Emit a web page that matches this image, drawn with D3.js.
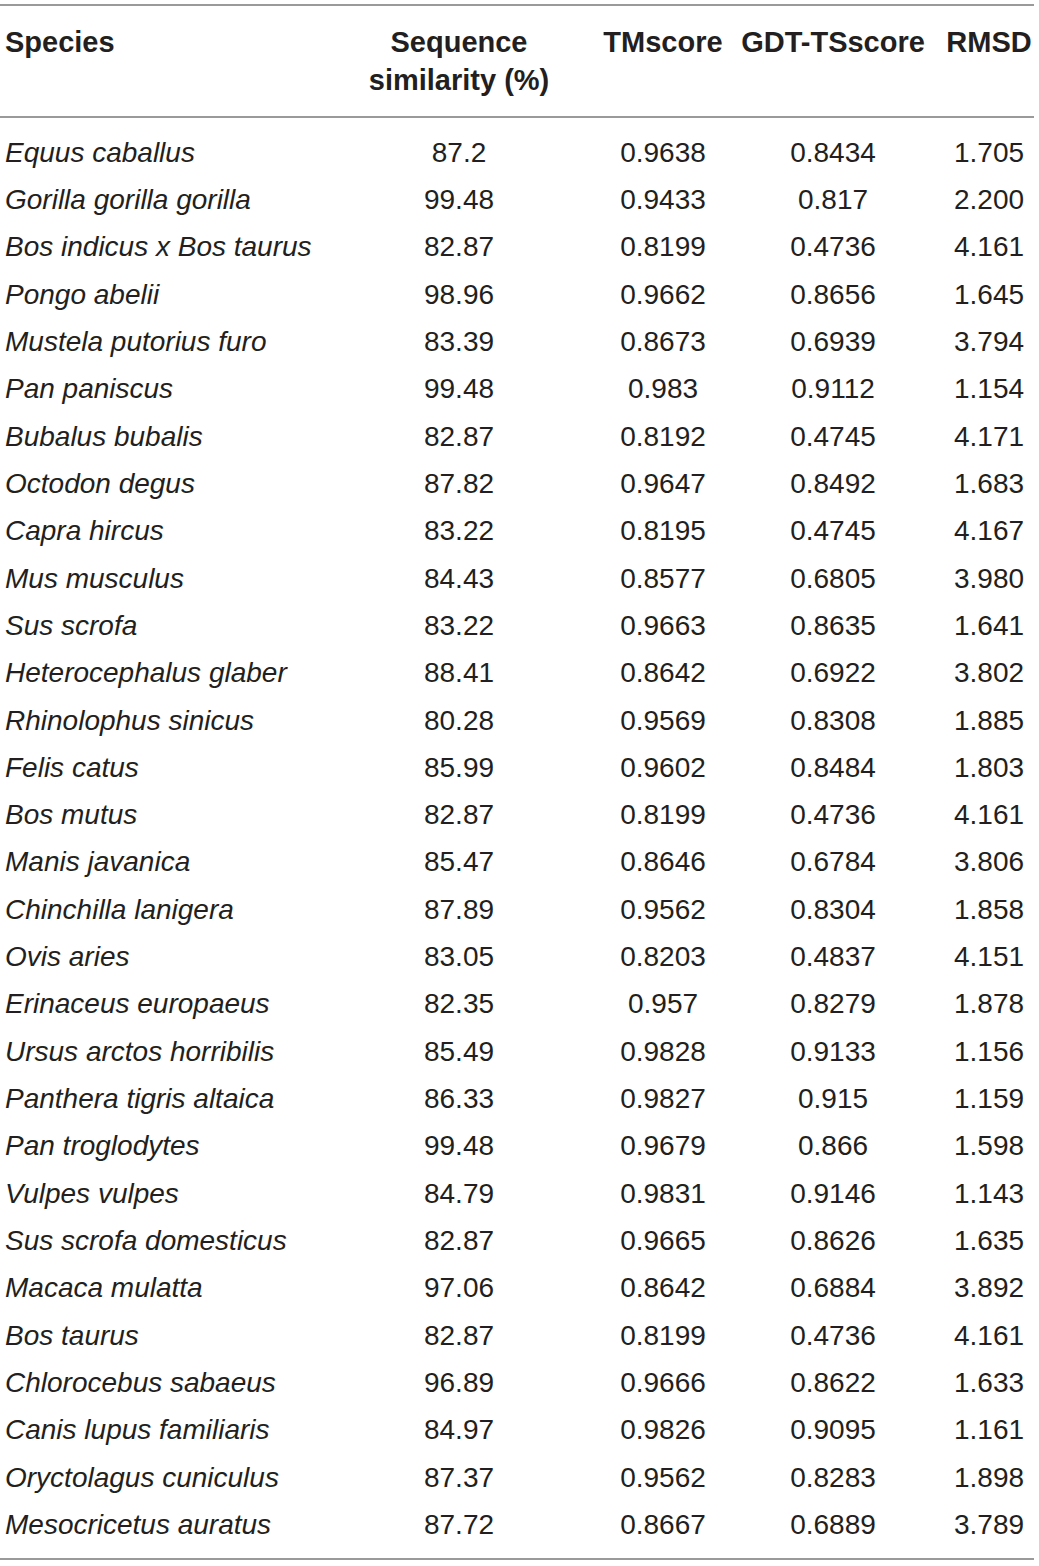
<!DOCTYPE html>
<html>
<head>
<meta charset="utf-8">
<script src="https://cdn.jsdelivr.net/npm/d3@7"></script>
<style>
  body { margin: 0; background: #fff; }
  svg text { font-family: "Liberation Sans", Arial, sans-serif; fill: #231f20; }
</style>
</head>
<body>
<svg id="table" width="1039" height="1566"></svg>
<script>
let species = ["Equus caballus", "Gorilla gorilla gorilla", "Bos indicus x Bos taurus", "Pongo abelii",
  "Mustela putorius furo", "Pan paniscus", "Bubalus bubalis", "Octodon degus", "Capra hircus",
  "Mus musculus", "Sus scrofa", "Heterocephalus glaber", "Rhinolophus sinicus", "Felis catus",
  "Bos mutus", "Manis javanica", "Chinchilla lanigera", "Ovis aries", "Erinaceus europaeus",
  "Ursus arctos horribilis", "Panthera tigris altaica", "Pan troglodytes", "Vulpes vulpes",
  "Sus scrofa domesticus", "Macaca mulatta", "Bos taurus", "Chlorocebus sabaeus",
  "Canis lupus familiaris", "Oryctolagus cuniculus", "Mesocricetus auratus"];

let similarity = ["87.2", "99.48", "82.87", "98.96", "83.39", "99.48", "82.87", "87.82", "83.22",
  "84.43", "83.22", "88.41", "80.28", "85.99", "82.87", "85.47", "87.89", "83.05", "82.35",
  "85.49", "86.33", "99.48", "84.79", "82.87", "97.06", "82.87", "96.89", "84.97", "87.37", "87.72"];

let tmscore = ["0.9638", "0.9433", "0.8199", "0.9662", "0.8673", "0.983", "0.8192", "0.9647", "0.8195",
  "0.8577", "0.9663", "0.8642", "0.9569", "0.9602", "0.8199", "0.8646", "0.9562", "0.8203", "0.957",
  "0.9828", "0.9827", "0.9679", "0.9831", "0.9665", "0.8642", "0.8199", "0.9666", "0.9826", "0.9562", "0.8667"];

let gdts = ["0.8434", "0.817", "0.4736", "0.8656", "0.6939", "0.9112", "0.4745", "0.8492", "0.4745",
  "0.6805", "0.8635", "0.6922", "0.8308", "0.8484", "0.4736", "0.6784", "0.8304", "0.4837", "0.8279",
  "0.9133", "0.915", "0.866", "0.9146", "0.8626", "0.6884", "0.4736", "0.8622", "0.9095", "0.8283", "0.6889"];

let rmsd = ["1.705", "2.200", "4.161", "1.645", "3.794", "1.154", "4.171", "1.683", "4.167",
  "3.980", "1.641", "3.802", "1.885", "1.803", "4.161", "3.806", "1.858", "4.151", "1.878",
  "1.156", "1.159", "1.598", "1.143", "1.635", "3.892", "4.161", "1.633", "1.161", "1.898", "3.789"];

let columns = ["Species", "Sequence similarity (%)", "TMscore", "GDT-TSscore", "RMSD"];

let svg = d3.select("#table");

// column anchors (species is left aligned, the rest centred)
let xScale = d3.scaleOrdinal().domain(columns).range([5, 459, 663, 833, 989]);
let yScale = d3.scalePoint().domain(d3.range(species.length)).range([152, 1524]);

// rules
svg.selectAll("line.rule")
  .data([5, 117, 1559])
  .enter().append("line")
  .attr("class", "rule")
  .attr("x1", 0)
  .attr("x2", 1034)
  .attr("y1", d => d)
  .attr("y2", d => d)
  .style("stroke", "#9a9a9a")
  .style("stroke-width", 2);

// header
let header = svg.append("g").style("font-weight", "bold").style("font-size", "29px");
header.selectAll("text")
  .data(columns)
  .enter().append("text")
  .attr("x", d => xScale(d))
  .attr("y", 42)
  .attr("dy", "0.35em")
  .attr("text-anchor", (d, i) => i == 0 ? "start" : "middle")
  .each(function(d) {
    if (d == "Sequence similarity (%)") {
      let t = d3.select(this);
      t.append("tspan").attr("x", xScale(d)).text("Sequence");
      t.append("tspan").attr("x", xScale(d)).attr("dy", 38).text("similarity (%)");
    } else {
      d3.select(this).text(d);
    }
  });

// body rows
let rows = svg.append("g").style("font-size", "28px")
  .selectAll("g.row")
  .data(species.map((s, i) => [s, similarity[i], tmscore[i], gdts[i], rmsd[i]]))
  .enter().append("g")
  .attr("class", "row")
  .attr("transform", (d, i) => "translate(0," + yScale(i) + ")");

rows.selectAll("text")
  .data(d => d)
  .enter().append("text")
  .attr("x", (d, i) => xScale(columns[i]))
  .attr("dy", "0.35em")
  .attr("text-anchor", (d, i) => i == 0 ? "start" : "middle")
  .style("font-style", (d, i) => i == 0 ? "italic" : "normal")
  .text(d => d);
</script>
</body>
</html>
